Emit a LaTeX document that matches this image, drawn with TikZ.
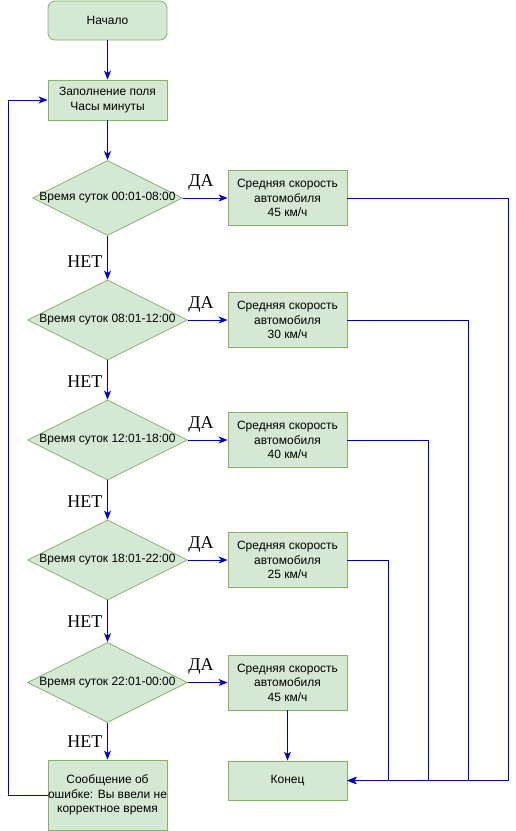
\documentclass[tikz,border=0pt]{standalone}
\usepackage{fontspec}
\setmainfont{Liberation Sans}
\newfontfamily\lblfont{Liberation Serif}
\usetikzlibrary{shapes.geometric,arrows.meta}
\definecolor{grn}{HTML}{82B366}
\definecolor{lgrn}{HTML}{D5E8D4}
\definecolor{edgeblue}{HTML}{0000CC}
\begin{document}
\begin{tikzpicture}[x=1pt,y=-1pt,
  txt/.style={font=\fontsize{12}{14.5}\selectfont, text=black, align=center},
  box/.style={txt, draw=grn, fill=lgrn, line width=0.8pt, minimum width=119pt, minimum height=55pt, inner sep=0pt},
  startbox/.style={box, rounded corners=7pt, minimum height=39pt},
  smallbox/.style={box, minimum height=40pt},
  errbox/.style={box, minimum height=70pt},
  dia/.style={diamond, draw=grn, fill=lgrn, line width=0.8pt, minimum width=160pt, minimum height=80pt, inner sep=0pt, aspect=2},
  dlabel/.style={label={[txt]center:#1}},
  arr/.style={draw=edgeblue, line width=1pt, -{Stealth[length=9pt,width=7pt,inset=2.5pt]}},
  yes/.style={font=\lblfont\fontsize{18}{20}\selectfont, anchor=base},
  no/.style={font=\lblfont\fontsize{18}{20}\selectfont, anchor=base east}
]
\useasboundingbox (0,0) rectangle (516,831);

\node[startbox] (start) at (107.5,20.5) {Начало};
\node[smallbox] (fill) at (107.5,100) {Заполнение поля\\Часы минуты};
\node[dia, minimum width=150pt, minimum height=75pt, dlabel={Время суток 00:01-08:00}] (d1) at (107.5,198) {};
\node[dia, dlabel={Время суток 08:01-12:00}] (d2) at (107.5,320) {};
\node[dia, dlabel={Время суток 12:01-18:00}] (d3) at (107.5,440) {};
\node[dia, dlabel={Время суток 18:01-22:00}] (d4) at (107.5,560) {};
\node[dia, dlabel={Время суток 22:01-00:00}] (d5) at (107.5,682.5) {};
\node[errbox] (err) at (107.5,795) {Сообщение об\\ошибке: Вы ввели не\\корректное время};

\node[box] (b1) at (287.5,198) {Средняя скорость\\автомобиля\\45 км/ч};
\node[box] (b2) at (287.5,320) {Средняя скорость\\автомобиля\\30 км/ч};
\node[box] (b3) at (287.5,440) {Средняя скорость\\автомобиля\\40 км/ч};
\node[box] (b4) at (287.5,560) {Средняя скорость\\автомобиля\\25 км/ч};
\node[box] (b5) at (287.5,682.5) {Средняя скорость\\автомобиля\\45 км/ч};
\node[smallbox, minimum height=39pt] (end) at (287.5,780.5) {Конец};

\coordinate (r1) at (508,780.5);
\coordinate (r2) at (468,780.5);
\coordinate (r3) at (428,780.5);
\coordinate (r4) at (388,780.5);
\coordinate (loop) at (8,100);

% main flow
\draw[arr] (start) -- (fill);
\draw[arr] (fill) -- (d1);
\draw[arr] (d1.south) -- (d2.north);
\draw[arr] (d2.south) -- (d3.north);
\draw[arr] (d3.south) -- (d4.north);
\draw[arr] (d4.south) -- (d5.north);
\draw[arr] (d5.south) -- (err.north);

% yes branches
\draw[arr] (d1.east) -- (b1.west);
\draw[arr] (d2.east) -- (b2.west);
\draw[arr] (d3.east) -- (b3.west);
\draw[arr] (d4.east) -- (b4.west);
\draw[arr] (d5.east) -- (b5.west);

% to end
\draw[arr] (b5.south) -- (end.north);
\draw[arr] (b1.east) -| (r1) -- (end.east);
\draw[arr] (b2.east) -| (r2) -- (end.east);
\draw[arr] (b3.east) -| (r3) -- (end.east);
\draw[arr] (b4.east) -| (r4) -- (end.east);

% loop back
\draw[arr] (err.west) -| (loop) -- (fill.west);

% labels
\node[yes] (y1) at (201,186) {ДА};
\node[yes] (y2) at (201,308) {ДА};
\node[yes] (y3) at (201,428) {ДА};
\node[yes] (y4) at (201,548) {ДА};
\node[yes] (y5) at (201,670) {ДА};
\node[no] (n1) at (106,267) {НЕТ};
\node[no] (n2) at (106,387) {НЕТ};
\node[no] (n3) at (106,507) {НЕТ};
\node[no] (n4) at (106,627) {НЕТ};
\node[no] (n5) at (106,747) {НЕТ};
\end{tikzpicture}
\end{document}
